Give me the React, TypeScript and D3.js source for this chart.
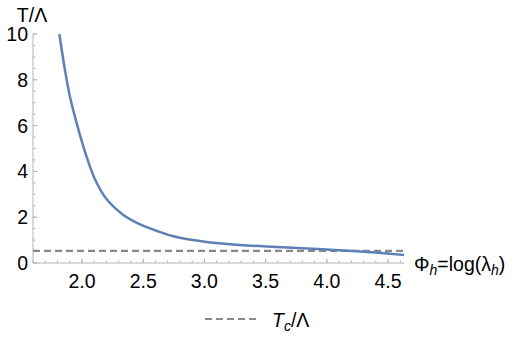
import { useMemo } from 'react';
import { scaleLinear, line, curveCatmullRom, range } from 'd3';

const width = 516;
const height = 341;

// curve: Phi_h vs T/Lambda
const phi = [1.815, 1.861, 1.902, 1.957, 2.005, 2.039, 2.107, 2.202, 2.338, 2.474, 2.624, 2.746, 3.019, 3.291, 3.59, 3.92, 4.13, 4.4, 4.63];
const temp = [10.0, 8.43, 7.26, 6.1, 5.2, 4.62, 3.65, 2.78, 2.1, 1.69, 1.38, 1.17, 0.92, 0.79, 0.7, 0.61, 0.55, 0.46, 0.35];
const tc = 0.53;

const xTicks = [2.0, 2.5, 3.0, 3.5, 4.0, 4.5];
const yTicks = [0, 2, 4, 6, 8, 10];

const font = '"Liberation Sans", Arial, sans-serif';
const axisColor = '#b3b3b3';

const App = () => {
  const x = scaleLinear().domain([1.6, 4.63]).range([33, 404]);
  const y = scaleLinear().domain([0, 10]).range([263, 34]);

  const data = useMemo(() => phi.map((p, i) => ({ p, t: temp[i] })), []);
  const path = line<{ p: number; t: number }>()
    .x(d => x(d.p))
    .y(d => y(d.t))
    .curve(curveCatmullRom.alpha(0.5))(data);

  const xMinor = range(16, 47).map(v => v / 10); // every 0.1
  const yMinor = range(0, 21).map(v => v / 2); // every 0.5

  return (
    <svg width={width} height={height} style={{ position: 'absolute', left: 0, top: 0, background: '#fff' }} fontFamily={font}>
      {/* axes */}
      <line x1={x.range()[0]} x2={x.range()[1]} y1={y(0)} y2={y(0)} stroke={axisColor} strokeWidth={1} />
      <line x1={x.range()[0]} x2={x.range()[0]} y1={y(0)} y2={y(10)} stroke={axisColor} strokeWidth={1} />
      {xMinor.map((v, i) => (
        <line key={'xm' + i} x1={x(v)} x2={x(v)} y1={y(0)} y2={y(0) - 2.5} stroke={axisColor} />
      ))}
      {xTicks.map((v, i) => (
        <g key={'xt' + i}>
          <line x1={x(v)} x2={x(v)} y1={y(0)} y2={y(0) - 4.5} stroke={axisColor} />
          <text x={x(v)} y={288} textAnchor="middle" fontSize={19.5} fill="#000">{v.toFixed(1)}</text>
        </g>
      ))}
      {yMinor.map((v, i) => (
        <line key={'ym' + i} x1={x(1.6)} x2={x(1.6) + 2.5} y1={y(v)} y2={y(v)} stroke={axisColor} />
      ))}
      {yTicks.map((v, i) => (
        <g key={'yt' + i}>
          <line x1={x(1.6)} x2={x(1.6) + 4.5} y1={y(v)} y2={y(v)} stroke={axisColor} />
          <text x={28} y={y(v) + 7} textAnchor="end" fontSize={19.5} fill="#000">{v}</text>
        </g>
      ))}

      {/* Tc line */}
      <line x1={x(1.6)} x2={x(4.63)} y1={y(tc)} y2={y(tc)} stroke="#888" strokeWidth={2.2} strokeDasharray="7,4" />

      {/* curve */}
      <path d={path ?? ''} fill="none" stroke="#5e81b5" strokeWidth={2.5} />

      {/* labels */}
      <text x={32} y={22} textAnchor="middle" fontSize={19.5} fill="#000">T/Λ</text>
      <text x={414} y={271} fontSize={19.5} fill="#000">
        Φ<tspan fontSize={14} fontStyle="italic" dy={4}>h</tspan>
        <tspan dy={-4}>=log(λ</tspan>
        <tspan fontSize={14} fontStyle="italic" dy={4}>h</tspan>
        <tspan dy={-4}>)</tspan>
      </text>

      {/* legend */}
      <line x1={205} x2={258} y1={319} y2={319} stroke="#888" strokeWidth={2.2} strokeDasharray="7,4" />
      <text x={272} y={327} fontSize={19.5} fill="#000">
        <tspan fontStyle="italic">T</tspan>
        <tspan fontSize={14} fontStyle="italic" dy={4}>c</tspan>
        <tspan dy={-4}>/Λ</tspan>
      </text>
    </svg>
  );
};

export default App;
